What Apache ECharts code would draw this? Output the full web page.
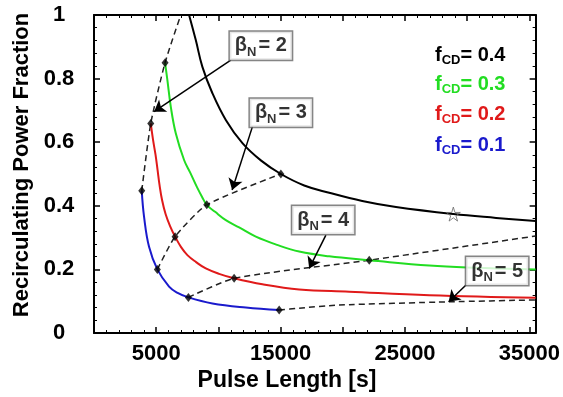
<!DOCTYPE html>
<html><head><meta charset="utf-8">
<script src="https://cdn.jsdelivr.net/npm/echarts@6/dist/echarts.min.js"></script>
<style>html,body{margin:0;padding:0;background:#fff}#c{width:563px;height:397px}</style>
</head><body><div id="c"></div>
<script>
// ---- data (x: pulse length [s], y: recirculating power fraction)
const fcd04 = [[7643,1.0],[8182,0.921],[8713,0.837],[9518,0.754],[10596,0.670],[11932,0.597],[13436,0.542],[15021,0.500],[16896,0.464],[18907,0.441],[21563,0.415],[24274,0.396],[28884,0.374],[32320,0.362],[35500,0.352]];
const fcd03 = [[5712,0.850],[5897,0.796],[6171,0.712],[6573,0.628],[7241,0.544],[7724,0.505],[8287,0.458],[8689,0.428],[9064,0.403],[9735,0.381],[10596,0.355],[11666,0.332],[13010,0.303],[14723,0.277],[16494,0.256],[18907,0.241],[22125,0.229],[26953,0.212],[30976,0.205],[35500,0.200]];
const fcd02 = [[4562,0.659],[4747,0.607],[4948,0.560],[5109,0.513],[5270,0.465],[5471,0.418],[5753,0.374],[6115,0.336],[6517,0.303],[7000,0.270],[7507,0.245],[8206,0.223],[8987,0.203],[10057,0.186],[11264,0.172],[13541,0.153],[16494,0.137],[20517,0.130],[26953,0.119],[35500,0.111]];
const fcd01 = [[3838,0.447],[4023,0.366],[4425,0.271],[5093,0.200],[6034,0.146],[6678,0.127],[7587,0.112],[9518,0.093],[12205,0.080],[14885,0.072]];
const beta2 = [[3838,0.447],[4562,0.659],[5712,0.850],[6975,1.0]];
const beta3 = [[5093,0.200],[6517,0.303],[9064,0.403],[15021,0.500]];
const beta4 = [[7587,0.112],[11264,0.172],[22125,0.229],[35500,0.305]];
const beta5 = [[14885,0.072],[16494,0.078],[19700,0.088],[28508,0.098],[35500,0.104]];
const markerPoints = [[3838,0.447],[4562,0.659],[5712,0.850],[5093,0.200],[6517,0.303],[9064,0.403],[15021,0.500],[7587,0.112],[11264,0.172],[22125,0.229],[14885,0.072]];
const starPoint = [[28884,0.374]];
const betaLabels = ['2','3','4','5'];
const legendLabels = ['0.4','0.3','0.2','0.1'];
const xTickLabels = [5000,15000,25000,35000];
const yTickLabels = [0,0.2,0.4,0.6,0.8,1];

// ---- annotation placement (data coordinates)
const betaBoxPos = [[13411,0.903],[15021,0.693],[18424,0.355],[32408,0.195]];
const arrowPos = [
  [[10998,0.858],[4827,0.696]],
  [[12736,0.649],[11103,0.450]],
  [[18640,0.308],[17298,0.203]],
  [[29904,0.151],[28508,0.098]]
];

const FONT = '"Liberation Sans", Arial, sans-serif';
const colors = {k:'#000000', g:'#22dd22', r:'#e01a1a', b:'#1a1acc'};
const legendColors = [colors.k, colors.g, colors.r, colors.b];

const chart = echarts.init(document.getElementById('c'), null, {renderer:'canvas'});

function axisCommon(extra){
  return Object.assign({
    type:'value',
    axisLine:{show:true, onZero:false, lineStyle:{color:'#000', width:2}},
    axisTick:{show:true, inside:true, length:6, lineStyle:{color:'#000', width:1.5}},
    minorTick:{show:true, splitNumber:5, length:3, lineStyle:{color:'#000', width:1}},
    splitLine:{show:false}
  }, extra);
}

const curve = (data, color) => ({type:'line', data, smooth:0.4, symbol:'none', lineStyle:{color, width:2}, z:3, silent:true});
const dashed = (data) => ({type:'line', data, smooth:0.2, symbol:'none', lineStyle:{color:'#222', width:1.5, type:[6,4]}, z:2, silent:true});

const STAR = 'path://M50,0 L61,35 L98,35 L68,57 L79,91 L50,70 L21,91 L32,57 L2,35 L39,35 Z';

const option = {
  animation:false,
  grid:{left:94, right:27, top:15, bottom:64, containLabel:false},
  xAxis:[
    axisCommon({min:0, max:35500, interval:5000, position:'bottom',
      axisLabel:{formatter:v => xTickLabels.includes(v) ? String(v) : '', fontSize:22, fontWeight:'bold', color:'#000', fontFamily:FONT, margin:10, showMaxLabel:false}}),
    axisCommon({min:0, max:35500, interval:5000, position:'top', axisLabel:{show:false}})
  ],
  yAxis:[
    axisCommon({min:0, max:1, interval:0.2, position:'left',
      axisLabel:{formatter:v => yTickLabels.some(t => Math.abs(t-v)<1e-9) ? String(+v.toFixed(1)) : '', fontSize:22, fontWeight:'bold', color:'#000', fontFamily:FONT, align:'center', margin:35}}),
    axisCommon({min:0, max:1, interval:0.2, position:'right', axisLabel:{show:false}})
  ],
  series:[
    dashed(beta2), dashed(beta3), dashed(beta4), dashed(beta5),
    curve(fcd04, colors.k), curve(fcd03, colors.g), curve(fcd02, colors.r), curve(fcd01, colors.b),
    {type:'scatter', data:markerPoints, symbol:'diamond', symbolSize:[7,9], itemStyle:{color:'#000'}, z:5, silent:true,
      markLine:{silent:true, symbol:['none','arrow'], symbolSize:11, animation:false,
        lineStyle:{color:'#000', width:1.5, type:'solid'}, label:{show:false},
        data: arrowPos.map(a => [{coord:a[0]},{coord:a[1]}])}},
    {type:'scatter', data:starPoint, symbol:STAR, symbolSize:14, itemStyle:{color:'rgba(255,255,255,0)', borderColor:'#666', borderWidth:1}, z:5, silent:true},
    {type:'scatter', z:10, silent:true, symbol:'rect', symbolSize:1, itemStyle:{color:'rgba(0,0,0,0)'},
      data: betaLabels.map((n,i) => ({name:n, value:betaBoxPos[i]})),
      label:{show:true, position:'inside', formatter:p => '{b|β}{s|N}{b|= ' + p.name + '}',
        backgroundColor:'#fff', borderColor:'#666', borderWidth:1.5, padding:[1,5,1,5],
        rich:{
          b:{fontSize:20, fontWeight:'bold', fontFamily:FONT, color:'#000', lineHeight:26, verticalAlign:'middle'},
          s:{fontSize:13, fontWeight:'bold', fontFamily:FONT, color:'#000', lineHeight:26, verticalAlign:'bottom', padding:[0,2,0,0]}
        }}}
  ],
  graphic:[
    {type:'text', x:287, y:381, silent:true, style:{text:'Pulse Length [s]', fontSize:23, fontWeight:'bold', fontFamily:FONT, fill:'#000', textAlign:'center', textVerticalAlign:'middle'}},
    {type:'text', x:22, y:165, rotation:Math.PI/2, silent:true, style:{text:'Recirculating Power Fraction', fontSize:22, fontWeight:'bold', fontFamily:FONT, fill:'#000', textAlign:'center', textVerticalAlign:'middle'}}
  ].concat(legendLabels.map((v,i) => ({
    type:'text', x:435, y:[55,84,114,145][i], silent:true,
    style:{text:'{f|f}{s|CD}{f|= ' + v + '}', textVerticalAlign:'middle', textAlign:'left',
      rich:{
        f:{fontSize:20, fontWeight:'bold', fontFamily:FONT, fill:legendColors[i], lineHeight:24, verticalAlign:'middle'},
        s:{fontSize:13, fontWeight:'bold', fontFamily:FONT, fill:legendColors[i], lineHeight:24, verticalAlign:'bottom'}
      }}
  })))
};
chart.setOption(option);
</script></body></html>
